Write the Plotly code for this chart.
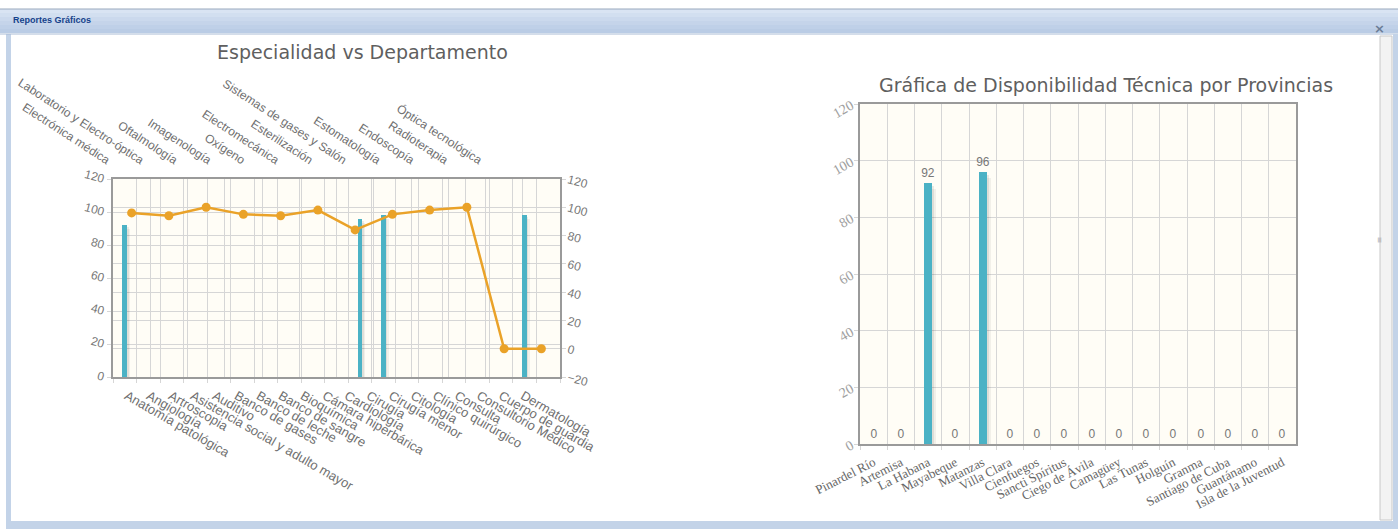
import plotly.graph_objects as go

W, H = 1398, 529

# ---- Especialidad vs Departamento ----
especialidades = [
    "Anatomía patológica", "Angiología", "Artroscopia",
    "Asistencia social y adulto mayor", "Auditivo", "Banco de gases",
    "Banco de leche", "Banco de sangre", "Bioquímica", "Cámara hiperbárica",
    "Cardiología", "Cirugía", "Cirugía menor", "Citología",
    "Clínico quirúrgico", "Consulta", "Consultorio Médico",
    "Cuerpo de guardia", "Dermatología",
]
valores_especialidad = [92, 0, 0, 0, 0, 0, 0, 0, 0, 0, 96, 98, 0, 0, 0, 0, 0, 98, 0]

departamentos = [
    "Electrónica médica", "Laboratorio y Electro-óptica", "Oftalmología",
    "Imagenología", "Oxígeno", "Electromecánica", "Esterilización",
    "Sistemas de gases y Salón", "Estomatología", "Endoscopía",
    "Radioterapia", "Óptica tecnológica",
]
valores_departamento = [96, 94, 100, 95, 94, 98, 84, 95, 98, 100, 0, 0]

# ---- Disponibilidad técnica por provincias ----
provincias = [
    "Pinardel Río", "Artemisa", "La Habana", "Mayabeque", "Matanzas",
    "Villa Clara", "Cienfuegos", "Sancti Spíritus", "Ciego de Ávila",
    "Camagüey", "Las Tunas", "Holguín", "Granma", "Santiago de Cuba",
    "Guantánamo", "Isla de la Juventud",
]
disponibilidad = [0, 0, 92, 0, 96, 0, 0, 0, 0, 0, 0, 0, 0, 0, 0, 0]

TEAL = "#4bb2c5"
ORANGE = "#EAA228"
GRID_BG = "#fffdf6"
GRID = "#d6d6d6"
BORDER = "#9a9a9a"


def px_x(v):
    return v / W


def px_y(v):
    return 1 - v / H


fig = go.Figure()

# bar shadows (left chart)
for k, alpha in enumerate([0.07, 0.05]):
    fig.add_trace(go.Bar(
        x=especialidades, y=valores_especialidad, base=-1.2 * (k + 1),
        width=0.2, offset=-0.1 + 0.06 * (k + 1),
        marker=dict(color=f"rgba(0,0,0,{alpha})", line=dict(width=0)),
        xaxis="x", yaxis="y", hoverinfo="skip", showlegend=False,
    ))
fig.add_trace(go.Bar(
    x=especialidades, y=valores_especialidad, width=0.2, offset=-0.1,
    marker=dict(color=TEAL, line=dict(width=0)),
    xaxis="x", yaxis="y", showlegend=False, name="Especialidad",
))
fig.add_trace(go.Scatter(
    x=departamentos, y=valores_departamento, mode="lines+markers",
    line=dict(color=ORANGE, width=2.5),
    marker=dict(color=ORANGE, size=9),
    xaxis="x2", yaxis="y2", showlegend=False, name="Departamento",
    cliponaxis=False,
))
# carriers for the spread-out category labels of the left chart
fig.add_trace(go.Scatter(
    x=departamentos, y=valores_departamento, mode="markers",
    marker=dict(opacity=0), xaxis="x4", yaxis="y2",
    hoverinfo="skip", showlegend=False,
))
fig.add_trace(go.Scatter(
    x=especialidades, y=valores_especialidad, mode="markers",
    marker=dict(opacity=0), xaxis="x5", yaxis="y",
    hoverinfo="skip", showlegend=False,
))

# bar shadows (right chart)
for k, alpha in enumerate([0.08, 0.05]):
    fig.add_trace(go.Bar(
        x=provincias, y=disponibilidad, base=-1.0 * (k + 1),
        width=0.3, offset=-0.15 + 0.07 * (k + 1),
        marker=dict(color=f"rgba(0,0,0,{alpha})", line=dict(width=0)),
        xaxis="x3", yaxis="y3", hoverinfo="skip", showlegend=False,
    ))
fig.add_trace(go.Bar(
    x=provincias, y=disponibilidad, width=0.3, offset=-0.15,
    marker=dict(color=TEAL, line=dict(width=0)),
    text=[str(v) for v in disponibilidad], textposition="outside",
    textfont=dict(family="Liberation Sans", size=12, color="#777"),
    constraintext="none", cliponaxis=False,
    xaxis="x3", yaxis="y3", showlegend=False, name="Disponibilidad",
))

tick_font = dict(family="Liberation Sans", size=12, color="#777")
top_font = dict(family="Liberation Sans", size=12, color="#707070")
bottom_font = dict(family="Liberation Sans", size=13, color="#707070")
serif_font = dict(family="Liberation Serif", size=13, color="#666")

fig.update_layout(
    width=W, height=H,
    margin=dict(l=0, r=0, t=0, b=0),
    paper_bgcolor="white",
    plot_bgcolor=GRID_BG,
    barmode="overlay",
    bargap=0,
    xaxis=dict(
        domain=[px_x(113), px_x(560)], anchor="y", automargin=False,
        type="category", tickson="boundaries", showticklabels=False,
        showgrid=True, gridcolor=GRID, gridwidth=1,
        showline=True, linecolor=BORDER, linewidth=2,
        ticks="outside", ticklen=4, tickcolor=GRID,
        fixedrange=True,
    ),
    xaxis2=dict(
        overlaying="x", side="top", anchor="y", automargin=False,
        type="category", tickson="boundaries", showticklabels=False,
        range=[-0.5, len(departamentos) - 0.5],
        showgrid=True, gridcolor=GRID, gridwidth=1,
        showline=True, linecolor=BORDER, linewidth=2,
        ticks="", fixedrange=True,
    ),
    xaxis4=dict(
        overlaying="x", side="top", anchor="y", automargin=False,
        type="category", range=[-0.553, 12.663],
        tickangle=33, tickfont=top_font,
        ticklabelshift=-22, ticklabelstandoff=10,
        showgrid=False, showline=False, zeroline=False, ticks="",
        fixedrange=True,
    ),
    xaxis5=dict(
        overlaying="x", side="bottom", anchor="y", automargin=False,
        type="category", range=[-0.623, 19.682],
        tickangle=30, tickfont=bottom_font, ticklabelstandoff=8,
        showgrid=False, showline=False, zeroline=False, ticks="",
        fixedrange=True,
    ),
    yaxis=dict(
        domain=[px_y(377), px_y(179)], anchor="x", automargin=False,
        range=[0, 120], dtick=20, tickangle=15, tickfont=tick_font,
        showgrid=True, gridcolor=GRID, zeroline=False,
        showline=True, linecolor=BORDER, linewidth=2,
        ticks="outside", ticklen=4, tickcolor=GRID,
        fixedrange=True,
    ),
    yaxis2=dict(
        overlaying="y", side="right", anchor="x", automargin=False,
        range=[-20, 120], dtick=20, tickangle=15, tickfont=tick_font,
        showgrid=True, gridcolor=GRID, zeroline=False,
        showline=True, linecolor=BORDER, linewidth=2,
        ticks="outside", ticklen=4, tickcolor=GRID,
        fixedrange=True,
    ),
    xaxis3=dict(
        domain=[px_x(860), px_x(1296)], anchor="y3", automargin=False,
        type="category", tickson="boundaries",
        tickangle=-27, tickfont=serif_font, ticklabelstandoff=4,
        showgrid=True, gridcolor=GRID, gridwidth=1,
        showline=True, linecolor=BORDER, linewidth=2, mirror=True,
        ticks="outside", ticklen=4, tickcolor=GRID,
        fixedrange=True,
    ),
    yaxis3=dict(
        domain=[px_y(444), px_y(104)], anchor="x3", automargin=False,
        range=[0, 120], dtick=20, tickangle=-30,
        tickfont=dict(family="Liberation Serif", size=14, color="#a0a0a0"),
        showgrid=True, gridcolor=GRID, zeroline=False,
        showline=True, linecolor=BORDER, linewidth=2, mirror=True,
        ticks="outside", ticklen=4, tickcolor=GRID,
        fixedrange=True,
    ),
)

title_font = dict(family="DejaVu Sans", size=19, color="#5f5f5f")
fig.add_annotation(text="Especialidad vs Departamento", xref="paper", yref="paper",
                   x=px_x(363), y=px_y(52), showarrow=False, font=title_font,
                   xanchor="center", yanchor="middle")
fig.add_annotation(text="Gráfica de Disponibilidad Técnica por Provincias",
                   xref="paper", yref="paper", x=px_x(1106), y=px_y(85),
                   showarrow=False, font=title_font,
                   xanchor="center", yanchor="middle")

# window frame: header bar with a soft vertical gradient
shapes = []
header_colors = ["#d9e4f3", "#d2dff0", "#cbd9ed", "#c5d4ea", "#bfd0e8", "#bacce5"]
band_top, band_h = 9, 4
for i, c in enumerate(header_colors):
    shapes.append(dict(type="rect", xref="paper", yref="paper",
                       x0=0, x1=1, y0=px_y(band_top + (i + 1) * band_h),
                       y1=px_y(band_top + i * band_h),
                       fillcolor=c, line=dict(width=0), layer="below"))
shapes += [
    dict(type="line", xref="paper", yref="paper", x0=0, x1=1,
         y0=px_y(9), y1=px_y(9), line=dict(color="#99a8bd", width=1)),
    dict(type="line", xref="paper", yref="paper", x0=0, x1=1,
         y0=px_y(34), y1=px_y(34), line=dict(color="#a9bcd6", width=1)),
    # left border
    dict(type="rect", xref="paper", yref="paper", x0=px_x(6), x1=px_x(11),
         y0=0, y1=px_y(34), fillcolor="#c3d3e8", line=dict(width=0),
         layer="below"),
    # bottom border
    dict(type="rect", xref="paper", yref="paper", x0=px_x(6), x1=1,
         y0=0, y1=px_y(521), fillcolor="#c3d3e8", line=dict(width=0)),
    # right border and scrollbar track
    dict(type="rect", xref="paper", yref="paper", x0=px_x(1393), x1=1,
         y0=0, y1=px_y(34), fillcolor="#c3d3e8", line=dict(width=0)),
    dict(type="rect", xref="paper", yref="paper", x0=px_x(1380), x1=px_x(1392),
         y0=px_y(520), y1=px_y(36), fillcolor="#f3f3f3",
         line=dict(color="#c8c8c8", width=1)),
]
fig.update_layout(shapes=shapes)

fig.add_annotation(text="<b>Reportes Gráficos</b>", xref="paper", yref="paper",
                   x=px_x(11), y=px_y(20), showarrow=False, xanchor="left",
                   yanchor="middle",
                   font=dict(family="Liberation Sans", size=9, color="#15428b"))
fig.add_annotation(text="<b>×</b>", xref="paper", yref="paper",
                   x=px_x(1387), y=px_y(19), showarrow=False,
                   font=dict(family="DejaVu Sans", size=13, color="#6b7d95"))
fig.add_annotation(text="≡", xref="paper", yref="paper",
                   x=px_x(1386), y=px_y(240), showarrow=False, textangle=90,
                   font=dict(family="DejaVu Sans", size=8, color="#aaa"))

fig.write_html("out.html")
